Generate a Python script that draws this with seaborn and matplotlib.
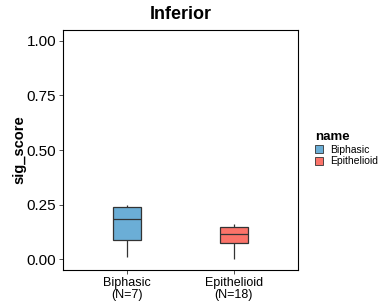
import matplotlib
matplotlib.use("Agg")
import matplotlib.pyplot as plt
import seaborn as sns
import pandas as pd
from matplotlib.patches import Patch

groups = ["Biphasic", "Epithelioid"]
tick_labels = ["Biphasic\n(N=7)", "Epithelioid\n(N=18)"]
biphasic_scores = [0.009, 0.080, 0.094, 0.183, 0.230, 0.248, 0.248]
epithelioid_scores = [0.000, 0.030, 0.050, 0.065, 0.072, 0.076, 0.090, 0.105, 0.112,
                      0.118, 0.125, 0.135, 0.145, 0.148, 0.152, 0.155, 0.158, 0.160]
palette = {"Biphasic": "#6BAED6", "Epithelioid": "#FB7369"}

df = pd.DataFrame({
    "name": ["Biphasic"] * len(biphasic_scores) + ["Epithelioid"] * len(epithelioid_scores),
    "sig_score": biphasic_scores + epithelioid_scores,
})

sns.set_theme(style="white")
plt.rcParams["font.family"] = ["Liberation Sans", "DejaVu Sans"]

fig = plt.figure(figsize=(3.9, 3.04), dpi=100)
ax = fig.add_axes([63 / 390, 34 / 304, 235 / 390, 240 / 304])

sns.boxplot(
    data=df, x="name", y="sig_score", hue="name", order=groups,
    palette=palette, saturation=1, width=0.26, linewidth=0.9, linecolor="#333333",
    fliersize=0, whis=1.5, capwidths=0, legend=False, ax=ax,
)

ax.set_xlim(0.4 - 1, 2.6 - 1)
ax.set_ylim(-0.05, 1.05)
ax.set_yticks([0, 0.25, 0.5, 0.75, 1.0])
ax.set_yticklabels(["0.00", "0.25", "0.50", "0.75", "1.00"], fontsize=11, color="black")
ax.set_xticks([0, 1])
ax.set_xticklabels(tick_labels, fontsize=9, color="black", linespacing=1.0)
ax.tick_params(axis="both", length=3, width=0.6, color="#333333", pad=2)
ax.tick_params(axis="both", which="major", bottom=True, left=True)
for s in ax.spines.values():
    s.set_color("black")
    s.set_linewidth(0.8)

ax.set_xlabel("")
ax.set_ylabel("sig_score", fontsize=10.5, fontweight="bold", labelpad=0, color="black")
ax.set_title("Inferior", fontsize=13, fontweight="bold", pad=8, color="black")

handles = [Patch(facecolor=palette[g], edgecolor="#333333", linewidth=0.6, label=g) for g in groups]
leg = fig.legend(
    handles=handles, title="name", loc="upper left", bbox_to_anchor=(313 / 390, 1 - 129 / 304),
    frameon=False, fontsize=7.5, title_fontproperties={"weight": "bold", "size": 9.5},
    handlelength=0.8, handleheight=0.8, handletextpad=0.6, labelspacing=0.15,
    borderaxespad=0, borderpad=0.2,
)
leg._legend_box.align = "left"
for t in leg.get_texts():
    t.set_color("black")
leg.get_title().set_color("black")

fig.savefig("out.png", dpi=100)
